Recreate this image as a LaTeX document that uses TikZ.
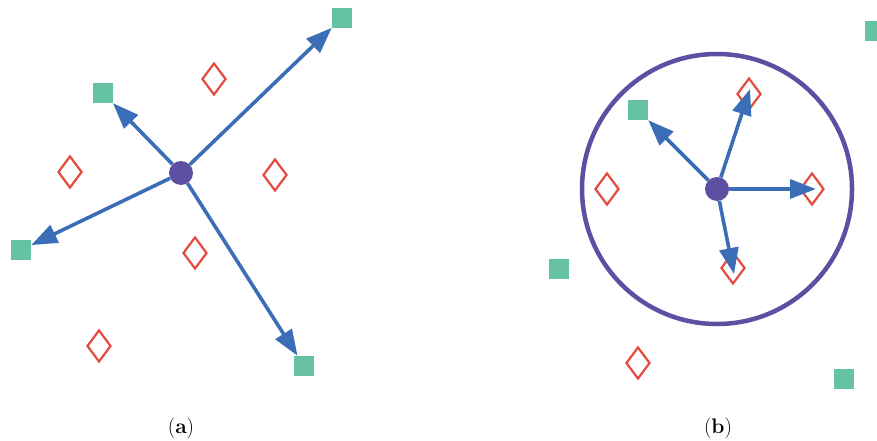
\documentclass[tikz,border=0pt]{standalone}
\usepackage{fontspec}
\usetikzlibrary{shapes.geometric,arrows.meta}
\definecolor{sqcol}{RGB}{102,194,165}
\definecolor{dmcol}{RGB}{229,74,60}
\definecolor{arcol}{RGB}{59,110,183}
\definecolor{pucol}{RGB}{94,79,162}
\tikzset{
  sq/.style={rectangle,fill=sqcol,minimum size=20pt,inner sep=0pt},
  dm/.style={diamond,draw=dmcol,line width=2.2pt,minimum width=24pt,minimum height=32pt,inner sep=0pt},
  ctr/.style={circle,fill=pucol,minimum size=24pt,inner sep=0pt},
  arr/.style={draw=arcol,line width=3.6pt,-{Triangle[length=26pt,width=19pt]}},
  ring/.style={circle,draw=pucol,line width=4.5pt,minimum size=270pt,inner sep=0pt},
  lab/.style={font=\fontsize{21}{25}\selectfont,inner sep=0pt}
}
\begin{document}
\begin{tikzpicture}[x=1pt,y=-1pt]
\useasboundingbox (0,0) rectangle (877,441);
\clip (0,0) rectangle (877,441);
% ---- panel (a)
\node[dm] (a1) at (214,79) {};
\node[dm] (a2) at (70,172) {};
\node[dm] (a3) at (275,175) {};
\node[dm] (a4) at (195,253) {};
\node[dm] (a5) at (99,346) {};
\node[sq] (s1) at (342,18) {};
\node[sq] (s2) at (103,93) {};
\node[sq] (s3) at (21,250) {};
\node[sq] (s4) at (304,366) {};
\node[ctr] (ca) at (181,173) {};
\draw[arr] (ca) -- (s1);
\draw[arr] (ca) -- (s2);
\draw[arr] (ca) -- (s3);
\draw[arr] (ca) -- (s4);
\node[lab] (la) at (181,428) {(\textbf{a})};
% ---- panel (b)
\node[ring] (rg) at (717,189) {};
\node[dm] (b1) at (749,94) {};
\node[dm] (b2) at (607,189) {};
\node[dm] (b3) at (812,189) {};
\node[dm] (b4) at (733,268) {};
\node[dm] (b5) at (638,363) {};
\node[sq] (t1) at (875,31) {};
\node[sq] (t2) at (638,110) {};
\node[sq] (t3) at (559,269) {};
\node[sq] (t4) at (844,379) {};
\node[ctr] (cb) at (717,189) {};
\coordinate (e1) at (750,89);
\coordinate (e3) at (816,189);
\coordinate (e4) at (734,274);
\draw[arr] (cb) -- (t2);
\draw[arr] (cb) -- (e1);
\draw[arr] (cb) -- (e3);
\draw[arr] (cb) -- (e4);
\node[lab] (lb) at (718,428) {(\textbf{b})};
\end{tikzpicture}
\end{document}
